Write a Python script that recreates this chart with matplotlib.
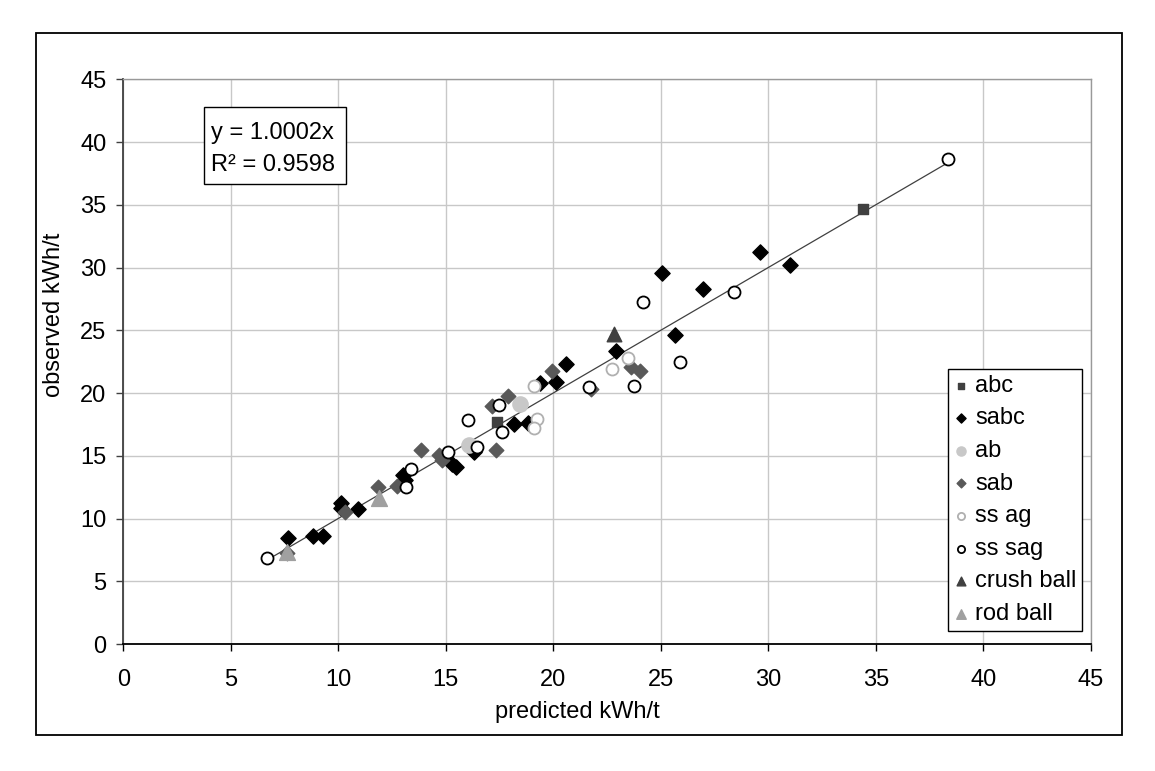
import matplotlib
matplotlib.use("Agg")
import matplotlib.pyplot as plt
from matplotlib.patches import Rectangle

plt.rcParams['font.family'] = ['Liberation Sans', 'DejaVu Sans']

# ---- data (predicted, observed) per series ----
abc_x = [17.37, 34.42]
abc_y = [17.66, 34.64]

sabc_x = [7.68, 8.81, 9.31, 10.12, 10.15, 10.94, 13.03, 13.10, 15.30, 15.48, 16.29,
          18.18, 18.80, 19.39, 20.13, 20.58, 22.92, 25.05, 25.68, 26.98, 29.59, 31.01]
sabc_y = [8.42, 8.63, 8.63, 11.20, 10.80, 10.76, 13.50, 13.05, 14.35, 14.10, 15.30,
          17.50, 17.59, 20.82, 20.90, 22.31, 23.37, 29.54, 24.62, 28.26, 31.26, 30.20]

ab_x = [16.10, 18.47]
ab_y = [15.86, 19.16]

sab_x = [7.62, 10.30, 11.87, 12.72, 13.85, 14.70, 14.80, 17.14, 17.32, 17.88, 19.93, 21.75, 23.60, 24.04]
sab_y = [7.25, 10.55, 12.48, 12.62, 15.46, 15.06, 14.66, 19.00, 15.46, 19.74, 21.78, 20.30, 22.05, 21.75]

ssag_x = [19.08, 19.23, 19.11, 22.72, 23.47]
ssag_y = [20.56, 17.90, 17.24, 21.89, 22.76]

sssag_x = [6.68, 13.15, 13.39, 15.08, 16.05, 16.44, 17.48, 17.60, 21.67, 23.77, 24.19, 25.88, 28.38, 38.33]
sssag_y = [6.88, 12.54, 13.92, 15.30, 17.88, 15.72, 19.04, 16.92, 20.45, 20.56, 27.25, 22.44, 28.07, 38.67]

crush_x = [22.80]
crush_y = [24.70]

rod_x = [7.60, 11.91]
rod_y = [7.36, 11.61]

trend_slope = 1.0002
r2 = 0.9598

x_ticks = [0, 5, 10, 15, 20, 25, 30, 35, 40, 45]
y_ticks = [0, 5, 10, 15, 20, 25, 30, 35, 40, 45]

FS = 17

fig = plt.figure(figsize=(11.55, 7.71), dpi=100)
ax = fig.add_axes([0.10667, 0.16472, 0.83792, 0.73243])

# outer chart border
fig.patches.append(Rectangle((0.03117, 0.04669), 0.94, 0.9105, transform=fig.transFigure,
                             fill=False, edgecolor='black', linewidth=1.3))

# trendline
all_x = abc_x + sabc_x + ab_x + sab_x + ssag_x + sssag_x + crush_x + rod_x
xmin, xmax = min(all_x), max(all_x)
ax.plot([xmin, xmax], [trend_slope * xmin, trend_slope * xmax], color='#404040', lw=0.9, zorder=2)

series = [
    (abc_x, abc_y, 'abc', dict(marker='s', s=60, c='#404040', edgecolors='#404040')),
    (sabc_x, sabc_y, 'sabc', dict(marker='D', s=60, c='black', edgecolors='black')),
    (ab_x, ab_y, 'ab', dict(marker='o', s=120, c='#c8c8c8', edgecolors='#c8c8c8')),
    (sab_x, sab_y, 'sab', dict(marker='D', s=55, c='#595959', edgecolors='#595959')),
    (ssag_x, ssag_y, 'ss ag', dict(marker='o', s=75, c='white', edgecolors='#b0b0b0', linewidths=1.3)),
    (sssag_x, sssag_y, 'ss sag', dict(marker='o', s=75, c='white', edgecolors='black', linewidths=1.3)),
    (crush_x, crush_y, 'crush ball', dict(marker='^', s=110, c='#404040', edgecolors='#404040')),
    (rod_x, rod_y, 'rod ball', dict(marker='^', s=130, c='#a0a0a0', edgecolors='#a0a0a0')),
]
for xs, ys, lab, kw in series:
    ax.scatter(xs, ys, label=lab, zorder=3, **kw)

ax.set_xlim(0, 45)
ax.set_ylim(0, 45)
ax.set_xticks(x_ticks)
ax.set_yticks(y_ticks)
ax.set_xticklabels([str(t) for t in x_ticks], fontsize=FS)
ax.set_yticklabels([str(t) for t in y_ticks], fontsize=FS)
ax.grid(True, color='#c8c8c8', linewidth=1.0, zorder=0)
ax.set_axisbelow(True)
ax.tick_params(axis='x', direction='out', length=5, width=1, color='black', pad=13)
ax.tick_params(axis='y', direction='out', length=5, width=1, color='#404040', pad=7)

for side in ['top', 'right']:
    ax.spines[side].set_color('#999999')
    ax.spines[side].set_linewidth(1.0)
ax.spines['left'].set_color('#404040')
ax.spines['left'].set_linewidth(1.3)
ax.spines['bottom'].set_color('black')
ax.spines['bottom'].set_linewidth(1.3)

fig.text(0.5, 1 - 712 / 771, 'predicted kWh/t', fontsize=FS, ha='center', va='center')
fig.text(54 / 1155, 1 - 315 / 771, 'observed kWh/t', fontsize=FS, ha='center', va='center', rotation=90)

# equation box
fig.patches.append(Rectangle((0.1769, 0.7610), 0.1227, 0.09987, transform=fig.transFigure,
                             facecolor='white', edgecolor='black', linewidth=1.0, zorder=5))
fig.text(0.1824, 1 - 133 / 771, 'y = %.4fx' % trend_slope, fontsize=FS, ha='left', va='center', zorder=6)
fig.text(0.1824, 1 - 165 / 771, 'R\u00b2 = %.4f' % r2, fontsize=FS, ha='left', va='center', zorder=6)

leg = ax.legend(loc='lower left', bbox_to_anchor=(948 / 1155, 1 - 631 / 771), bbox_transform=fig.transFigure,
                borderaxespad=0, fontsize=FS, frameon=True, fancybox=False, framealpha=1,
                edgecolor='black', markerscale=0.6, handlelength=0.6, handletextpad=0.3,
                labelspacing=0.45, borderpad=0.25, scatterpoints=1)
leg.get_frame().set_linewidth(1.0)

fig.savefig('out.png', dpi=100)
